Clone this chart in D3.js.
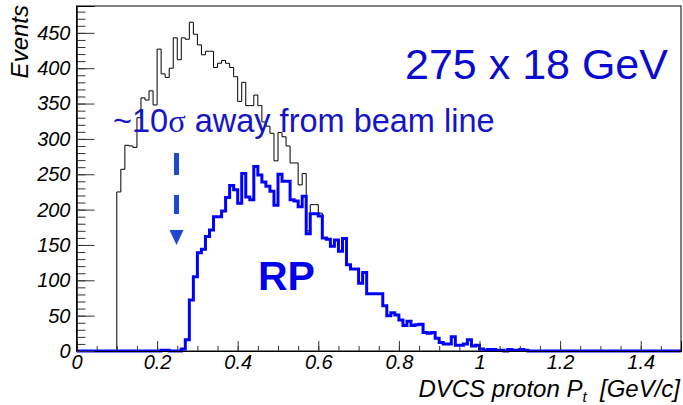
<!DOCTYPE html>
<html>
<head>
<meta charset="utf-8">
<script src="https://cdn.jsdelivr.net/npm/d3@7"></script>
<style>
  body { margin: 0; background: #fff; }
  svg { display: block; }
</style>
</head>
<body>
<div id="chart"></div>
<script>
// histogram binning (0.01 GeV/c bins from 0 to 1.5)
const binWidth = 0.01,
      nBins = 150;

// all DVCS protons: counts starting at bin 10 (pt = 0.10), beyond the last value it follows the RP counts
const allStart = 10;
const allCounts = [225, 257, 291, 290, 288, 330, 358, 355, 368, 348,
                   427, 392, 387, 400, 443, 412, 443, 441, 465, 448,
                   433, 419, 424, 424, 401, 407, 411, 407, 401, 388,
                   353, 380, 347, 347, 362, 347, 324, 318, 308, 269,
                   309, 303, 290, 266, 266, 235, 251, 170, 207, 207,
                   195];

// protons seen in the Roman pots: counts starting at bin 21 (pt = 0.21)
const rpStart = 21;
const rpCounts = [1, 1, 0, 0, 0, 3, 16, 72, 105, 139,
                  144, 162, 171, 190, 190, 198, 217, 234, 228, 209,
                  251, 218, 214, 261, 249, 239, 233, 226, 206, 250,
                  240, 240, 214, 212, 204, 219, 166, 194, 194, 191,
                  160, 158, 148, 157, 141, 159, 122, 116, 116, 96,
                  111, 81, 81, 81, 81, 64, 50, 54, 51, 44,
                  36, 42, 36, 37, 38, 26, 25, 26, 18, 12,
                  10, 10, 20, 8, 8, 10, 16, 7, 8, 3,
                  1, 2, 2, 1, 1, 0, 2, 1, 1, 2, 1];

const xTicks = [0, 0.2, 0.4, 0.6, 0.8, 1, 1.2, 1.4];
const yTicks = [0, 50, 100, 150, 200, 250, 300, 350, 400, 450];

const width = 683,
      height = 405,
      margin = ({top: 6, right: 2, bottom: 54, left: 76.5});

const rpAt = i => (i >= rpStart && i < rpStart + rpCounts.length) ? rpCounts[i - rpStart] : 0;
const allAt = i => i < allStart ? 0 : (i < allStart + allCounts.length ? allCounts[i - allStart] : rpAt(i));

const allBins = d3.range(nBins).map(i => ({lo: i * binWidth, v: allAt(i)}));
const rpBins = d3.range(nBins).map(i => ({lo: i * binWidth, v: rpAt(i)}));

let svg = d3.select("#chart")
    .append("svg")
    .attr("width", width)
    .attr("height", height)
    .attr("viewBox", [0, 0, width, height]);

let x = d3.scaleLinear()
    .domain([0, 1.5])
    .range([margin.left, width - margin.right]);

let y = d3.scaleLinear()
    .domain([0, 488])
    .range([height - margin.bottom, margin.top]);

const labelFont = "'Liberation Sans', Arial, Helvetica, sans-serif";
const textFont = "'Liberation Sans', Arial, Helvetica, sans-serif";

// step outline of a histogram
const step = d3.line()
    .x(d => x(d.lo))
    .y(d => y(d.v))
    .curve(d3.curveStepAfter);
const withEnd = bins => bins.concat([{lo: nBins * binWidth, v: bins[bins.length - 1].v}]);

// frame
svg.append("rect")
    .attr("x", x(0))
    .attr("y", y.range()[1])
    .attr("width", x(1.5) - x(0))
    .attr("height", y(0) - y.range()[1])
    .attr("fill", "none")
    .attr("stroke", "#000")
    .attr("stroke-width", 1);

svg.append("path")
    .attr("d", step(withEnd(allBins)))
    .attr("fill", "none")
    .attr("stroke", "#000")
    .attr("stroke-width", 1);

svg.append("path")
    .attr("d", step(withEnd(rpBins)))
    .attr("fill", "none")
    .attr("stroke", "#0000ff")
    .attr("stroke-width", 3);

// axes, ROOT style: ticks point inside the frame
const xAxis = g => g
    .attr("transform", `translate(0, ${y(0)})`)
    .call(d3.axisBottom(x).tickValues(xTicks).tickSize(-10).tickPadding(4).tickFormat(d3.format("~g")));
const xMinor = g => g
    .attr("transform", `translate(0, ${y(0)})`)
    .call(d3.axisBottom(x).tickValues(d3.range(0, 1.5, 0.05)).tickSize(-5).tickFormat(""));
const yAxis = g => g
    .attr("transform", `translate(${x(0)}, 0)`)
    .call(d3.axisLeft(y).tickValues(yTicks).tickSize(-18).tickPadding(6));
const yMinor = g => g
    .attr("transform", `translate(${x(0)}, 0)`)
    .call(d3.axisLeft(y).tickValues(d3.range(0, 481, 10)).tickSize(-9).tickFormat(""));

svg.append("g").call(xMinor);
svg.append("g").call(yMinor);
svg.append("g").attr("class", "xaxis").call(xAxis);
svg.append("g").attr("class", "yaxis").call(yAxis);

svg.selectAll(".domain").attr("stroke", "#000");
svg.selectAll(".tick line").attr("stroke", "#333");
svg.selectAll(".xaxis text, .yaxis text")
    .attr("font-family", labelFont)
    .attr("font-style", "italic")
    .attr("font-size", 20)
    .attr("fill", "#000");

// axis titles
svg.append("text")
    .attr("transform", `translate(28, ${margin.top - 1}) rotate(-90)`)
    .attr("text-anchor", "end")
    .attr("font-family", labelFont)
    .attr("font-style", "italic")
    .attr("font-size", 24)
    .text("Events");

let xt = svg.append("text")
    .attr("x", width - 3)
    .attr("y", 397)
    .attr("text-anchor", "end")
    .attr("font-family", labelFont)
    .attr("font-style", "italic")
    .attr("font-size", 24);
xt.append("tspan").text("DVCS proton P");
xt.append("tspan").attr("dy", 5).attr("font-size", 15).text("t");
xt.append("tspan").attr("dy", -5).text("\u00a0\u00a0[GeV/c]");

// annotations
svg.append("text")
    .attr("x", 405)
    .attr("y", 79)
    .attr("font-family", textFont)
    .attr("font-size", 43)
    .attr("fill", "#0a0ad0")
    .text("275 x 18 GeV");

let beam = svg.append("text")
    .attr("x", 113)
    .attr("y", 132)
    .attr("font-family", textFont)
    .attr("font-size", 32.5)
    .attr("fill", "#1414c8");
beam.append("tspan").text("~10");
beam.append("tspan").attr("font-family", "'Liberation Serif', 'DejaVu Serif', serif").text("\u03c3");
beam.append("tspan").text(" away from beam line");

svg.append("text")
    .attr("x", 258)
    .attr("y", 290)
    .attr("font-family", textFont)
    .attr("font-weight", "bold")
    .attr("font-size", 41)
    .attr("fill", "#0000ee")
    .text("RP");

// dashed arrow pointing down to the acceptance edge
const arrowX = 176.5;
svg.append("line")
    .attr("x1", arrowX).attr("x2", arrowX)
    .attr("y1", 153).attr("y2", 214)
    .attr("stroke", "#1f48d0")
    .attr("stroke-width", 5)
    .attr("stroke-dasharray", "22 20");
svg.append("path")
    .attr("d", `M${arrowX - 7},230 L${arrowX + 7},230 L${arrowX},245 Z`)
    .attr("fill", "#1f48d0");
</script>
</body>
</html>
